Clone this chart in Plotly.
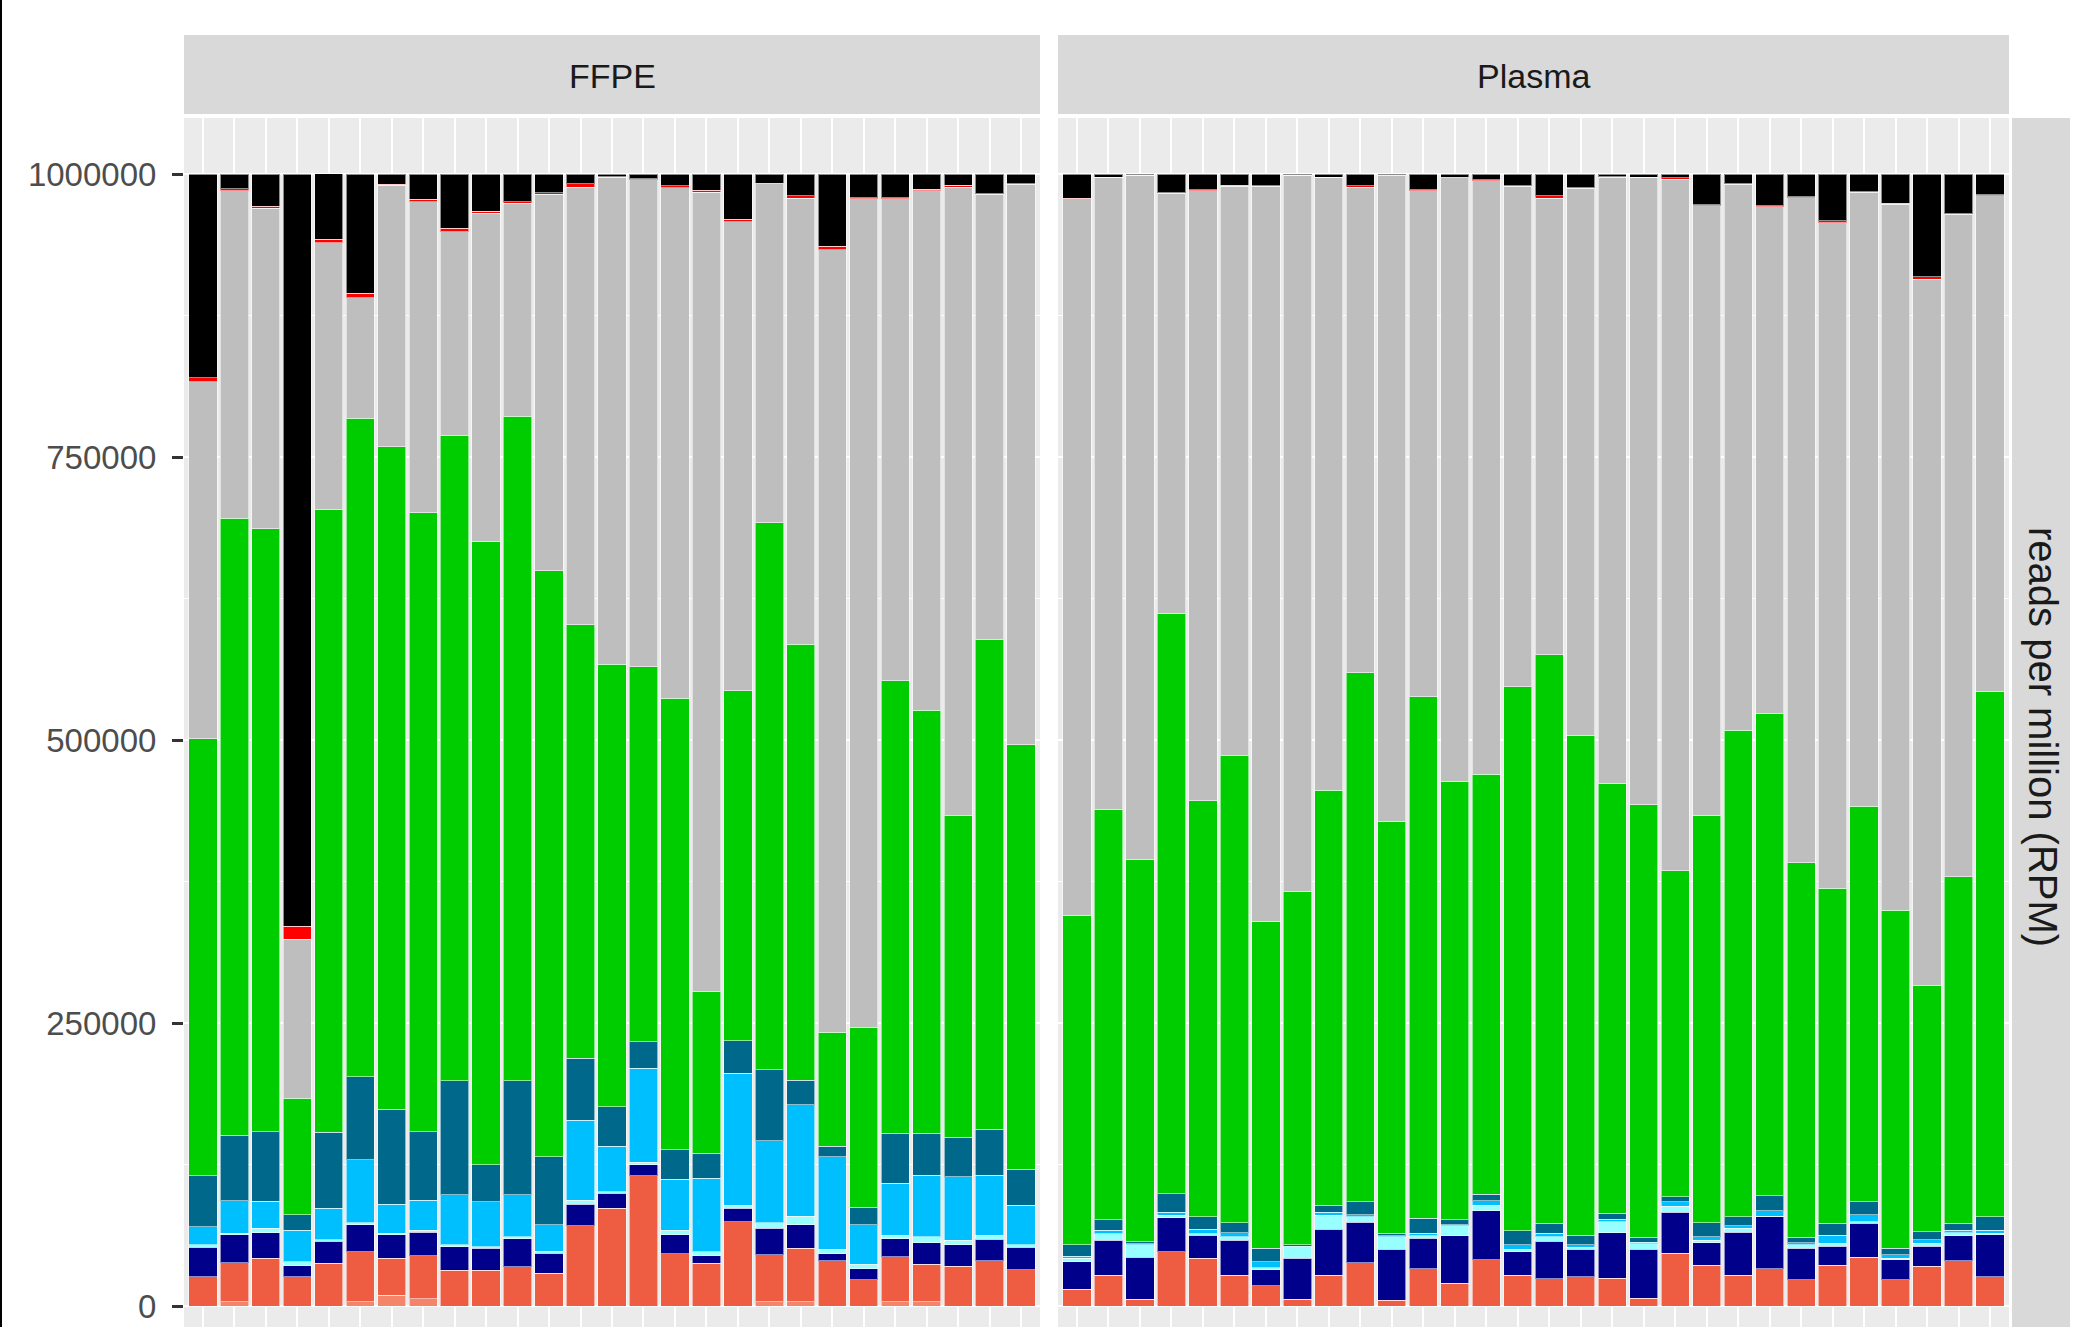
import plotly.graph_objects as go

# ---------------- data ----------------
ffpe_samples = ["F01", "F02", "F03", "F04", "F05", "F06", "F07", "F08", "F09", "F10",
                "F11", "F12", "F13", "F14", "F15", "F16", "F17", "F18", "F19", "F20",
                "F21", "F22", "F23", "F24", "F25", "F26", "F27"]
plasma_samples = ["P01", "P02", "P03", "P04", "P05", "P06", "P07", "P08", "P09", "P10",
                  "P11", "P12", "P13", "P14", "P15", "P16", "P17", "P18", "P19", "P20",
                  "P21", "P22", "P23", "P24", "P25", "P26", "P27", "P28", "P29", "P30"]

# stacking order: bottom -> top
categories = ["other", "miRNA", "tRNA", "snoRNA", "snRNA", "piRNA",
              "rRNA", "unannotated", "adapter", "unmapped"]
colors = ["#F4846A", "#EE5C42", "#00008B", "#97FFFF", "#00BFFF", "#00688B",
          "#00CD00", "#BEBEBE", "#FF0000", "#000000"]

ffpe_other = [0, 3800, 0, 0, 0, 3800, 9700, 6200, 0, 0, 0, 0, 0, 0, 0, 0, 0, 0,
              3800, 3800, 0, 0, 3800, 3800, 0, 0, 0]
ffpe_mirna = [26000, 34500, 42100, 25900, 37700, 44200, 32400, 38000, 31800, 31800,
              34700, 28900, 70700, 86300, 115000, 46000, 37700, 74500, 41300, 47100,
              40000, 23000, 39800, 33300, 35300, 40000, 32000]
ffpe_trna = [26000, 24500, 22700, 9700, 19500, 23600, 20700, 21000, 20600, 19100,
             24500, 17500, 19400, 13200, 10000, 17000, 6500, 12000, 23500, 20700,
             6000, 10000, 16000, 18900, 18600, 18900, 20000]
ffpe_snorna = [2000, 1500, 3800, 3600, 1500, 2000, 1400, 1900, 1500, 1500,
               2000, 2000, 3500, 1500, 2000, 4000, 3800, 2500, 5000, 7900,
               4000, 4000, 3000, 5200, 4400, 3800, 2000]
ffpe_snrna = [16000, 28500, 24000, 27900, 27600, 55400, 25900, 26500, 44200, 39800,
              36900, 23200, 70700, 40000, 83000, 45000, 64800, 116500, 72500, 98100,
              82000, 34600, 45800, 54500, 56000, 53000, 35200]
ffpe_pirna = [45000, 58200, 61200, 13300, 67100, 73600, 83900, 60400, 100700, 32400,
              101000, 60300, 54500, 35000, 23500, 26000, 22100, 29000, 62400, 22000,
              9000, 15600, 44100, 36800, 34700, 40400, 31500]
ffpe_rrna = [386000, 544800, 533000, 103300, 549800, 581600, 585000, 546800, 569800, 550600,
             587100, 517700, 382800, 391000, 331300, 399000, 142800, 309000, 483500, 385200,
             101000, 158700, 399900, 374000, 283900, 433100, 374900]
ffpe_unannot = [315500, 289200, 283000, 140300, 236200, 106600, 231000, 274800, 180500, 290300,
                187800, 332400, 386700, 430000, 430200, 451000, 706100, 414500, 299500, 393700,
                691000, 732100, 425600, 458500, 555600, 392800, 495400]
ffpe_adapter = [3500, 2000, 1700, 11400, 3000, 3800, 1000, 2000, 2900, 1500,
                1500, 1500, 3000, 500, 1000, 1500, 2000, 2000, 500, 2500,
                3000, 1000, 1000, 1500, 1500, 500, 500]
ffpe_unmapped = [180000, 13000, 28300, 664300, 57700, 105400, 9000, 22400, 48000, 33000,
                 24500, 16500, 8700, 2500, 4000, 10500, 14200, 40000, 8000, 19000,
                 64000, 21000, 21000, 13500, 10000, 17500, 8500]

plasma_other = [0, 0, 0, 0, 0, 0, 0, 0, 0, 0, 0, 0, 0, 0, 0,
                0, 0, 0, 0, 0, 0, 0, 0, 0, 0, 0, 0, 0, 0, 0]
plasma_mirna = [15000, 27000, 6000, 48000, 42000, 27000, 18000, 6000, 27000, 38000,
                5000, 33000, 20000, 41000, 27000, 24000, 26000, 24500, 7000, 46500,
                36000, 27000, 33000, 23000, 36000, 43000, 23000, 35000, 40000, 26000]
plasma_trna = [24000, 31000, 37000, 30000, 20700, 31000, 14000, 36000, 41000, 36000,
               45000, 27000, 42000, 43000, 21000, 33000, 24000, 40000, 43000, 36500,
               20000, 38000, 46000, 28000, 17000, 30000, 18000, 18000, 22000, 37000]
plasma_snorna = [3000, 6000, 11000, 2000, 1000, 3000, 2000, 10500, 12000, 5000,
                 11000, 2000, 9000, 5000, 2000, 4000, 2000, 10000, 5000, 5000,
                 2000, 3500, 500, 3000, 2500, 1500, 1000, 2500, 2500, 1200]
plasma_snrna = [2000, 3000, 1000, 3000, 4000, 3800, 5000, 500, 3000, 1500,
                1000, 2200, 1000, 4000, 4000, 3200, 2000, 2000, 1500, 4000,
                3200, 2200, 4500, 2000, 7000, 6000, 3100, 3000, 2600, 2900]
plasma_pirna = [9900, 9000, 1800, 16000, 11200, 8800, 11900, 900, 6200, 11700,
                2200, 13200, 4000, 5900, 12500, 8800, 8700, 5400, 4200, 4600,
                12400, 8200, 13200, 4700, 10500, 11700, 5800, 7200, 5900, 11800]
plasma_rrna = [291500, 363000, 337800, 513000, 367500, 412300, 288600, 312100, 366600, 467300,
               363600, 460900, 387200, 370800, 480600, 502100, 441700, 379800, 381900, 288000,
               360100, 429900, 425800, 330900, 296000, 349500, 298900, 217000, 306300, 463800]
plasma_unannot = [632600, 558000, 604400, 371000, 538600, 503100, 649500, 633000, 541200, 429000,
                  571200, 446700, 533300, 524300, 441900, 403400, 483100, 535300, 554400, 610900,
                  538300, 482200, 448000, 587400, 588000, 542300, 623700, 624300, 585200, 438300]
plasma_adapter = [500, 300, 0, 500, 1000, 1000, 500, 0, 0, 1000,
                  500, 1000, 500, 1000, 500, 2500, 500, 500, 0, 1000,
                  1000, 500, 1000, 1000, 1500, 500, 500, 2400, 500, 500]
plasma_unmapped = [21500, 2700, 1000, 16500, 14000, 10000, 10500, 1000, 3000, 10500,
                   500, 14000, 3000, 5000, 10500, 19000, 12000, 2500, 3000, 3500,
                   27000, 8500, 28000, 20000, 41500, 15500, 26000, 90600, 35000, 18500]

ffpe_series = [ffpe_other, ffpe_mirna, ffpe_trna, ffpe_snorna, ffpe_snrna,
               ffpe_pirna, ffpe_rrna, ffpe_unannot, ffpe_adapter, ffpe_unmapped]
plasma_series = [plasma_other, plasma_mirna, plasma_trna, plasma_snorna, plasma_snrna,
                 plasma_pirna, plasma_rrna, plasma_unannot, plasma_adapter, plasma_unmapped]

y_tickvals = [0, 250000, 500000, 750000, 1000000]
y_ticktext = ["0", "250000", "500000", "750000", "1000000"]
y_minorvals = [125000, 375000, 625000, 875000]

facet_labels = ["FFPE", "Plasma"]
strip_y_label = "reads per million (RPM)"

# ---------------- layout geometry (pixels) ----------------
W, H = 2077, 1327
def px(x):
    return x / W
def py(y):
    return 1 - y / H

ffpe_x0, ffpe_x1 = 184, 1040
plasma_x0, plasma_x1 = 1058, 2009
panel_top = 118
strip_top, strip_bot = 35, 114

regular = "Liberation Sans, Arial, sans-serif"

fig = go.Figure()

bar_line = dict(color="rgba(255,255,255,0.55)", width=1)
for name, col, fv, pv in zip(categories, colors, ffpe_series, plasma_series):
    fig.add_trace(go.Bar(x=ffpe_samples, y=fv, name=name, marker=dict(color=col, line=bar_line),
                         xaxis="x", yaxis="y", showlegend=False, hoverinfo="x+y+name"))
    fig.add_trace(go.Bar(x=plasma_samples, y=pv, name=name, marker=dict(color=col, line=bar_line),
                         xaxis="x2", yaxis="y2", showlegend=False, hoverinfo="x+y+name"))

yrange = [-18550, 1049470]
ycommon = dict(range=yrange, domain=[0, py(panel_top)], showgrid=True, gridcolor="white",
               gridwidth=2, zeroline=False, showline=False, fixedrange=True,
               minor=dict(tickmode="array", tickvals=y_minorvals, showgrid=True,
                          gridcolor="white", gridwidth=1, ticks=""))
xcommon = dict(type="category", showgrid=True, gridcolor="white", gridwidth=2,
               showticklabels=False, ticks="", zeroline=False, showline=False, fixedrange=True)

fig.update_layout(
    width=W, height=H, autosize=False,
    margin=dict(l=0, r=0, t=0, b=0, pad=0),
    paper_bgcolor="white", plot_bgcolor="#EBEBEB",
    barmode="stack", bargap=0.1,
    xaxis=dict(domain=[px(ffpe_x0), px(ffpe_x1)], range=[-0.6, len(ffpe_samples) - 0.4],
               anchor="y", **xcommon),
    xaxis2=dict(domain=[px(plasma_x0), px(plasma_x1)], range=[-0.6, len(plasma_samples) - 0.4],
                anchor="y2", **xcommon),
    yaxis=dict(anchor="x", tickmode="array", tickvals=y_tickvals, ticktext=y_ticktext,
               ticks="outside", ticklen=11, tickwidth=3, tickcolor="#333333",
               ticklabelstandoff=9,
               tickfont=dict(family=regular, size=33, color="#4D4D4D"), **ycommon),
    yaxis2=dict(anchor="x2", matches="y", tickmode="array", tickvals=y_tickvals,
                showticklabels=False, ticks="", **ycommon),
    font=dict(family=regular),
)

shapes = [
    dict(type="rect", xref="paper", yref="paper", x0=px(ffpe_x0), x1=px(ffpe_x1),
         y0=py(strip_bot), y1=py(strip_top), fillcolor="#D9D9D9", line=dict(width=0), layer="below"),
    dict(type="rect", xref="paper", yref="paper", x0=px(plasma_x0), x1=px(plasma_x1),
         y0=py(strip_bot), y1=py(strip_top), fillcolor="#D9D9D9", line=dict(width=0), layer="below"),
    dict(type="rect", xref="paper", yref="paper", x0=px(2012), x1=px(2070),
         y0=0, y1=py(panel_top), fillcolor="#D9D9D9", line=dict(width=0), layer="below"),
    dict(type="line", xref="paper", yref="paper", x0=px(1), x1=px(1), y0=0, y1=1,
         line=dict(color="black", width=2)),
]
fig.update_layout(shapes=shapes)

strip_font = dict(family=regular, size=34, color="#1A1A1A")
fig.add_annotation(x=px((ffpe_x0 + ffpe_x1) / 2), y=py(76), xref="paper", yref="paper",
                   xanchor="center", yanchor="middle",
                   text=facet_labels[0], showarrow=False, font=strip_font)
fig.add_annotation(x=px((plasma_x0 + plasma_x1) / 2), y=py(76), xref="paper", yref="paper",
                   xanchor="center", yanchor="middle",
                   text=facet_labels[1], showarrow=False, font=strip_font)
fig.add_annotation(x=px(2043), y=py(737), xref="paper", yref="paper",
                   xanchor="center", yanchor="middle",
                   text=strip_y_label, showarrow=False, textangle=90,
                   font=dict(family=regular, size=40, color="#1A1A1A"))

fig.write_html("out.html", config={"displayModeBar": False},
               post_script="document.body.style.margin='0';document.body.style.overflow='hidden';")
